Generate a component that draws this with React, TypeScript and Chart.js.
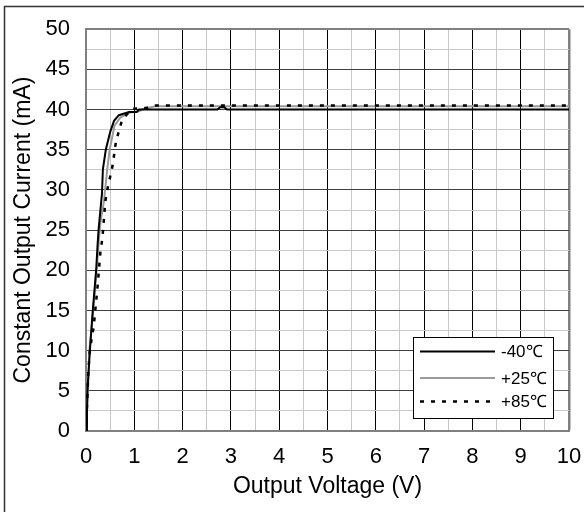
import React, { useEffect, useRef } from 'react';
import { Chart, registerables } from 'chart.js';

Chart.register(...registerables);

// -40°C curve
const m40X = [0, 0.02, 0.03, 0.08, 0.11, 0.14, 0.21, 0.24, 0.26, 0.33, 0.35, 0.41, 0.5, 0.58, 0.68, 0.89, 1.05, 1.1, 2.72, 2.78, 2.86, 2.92, 10];
const m40Y = [0, 2.2, 5, 10, 12.5, 15, 20, 23.2, 25, 29.5, 32.6, 35, 37.2, 38.6, 39.3, 39.7, 39.7, 40.0, 40.0, 40.3, 40.3, 40.0, 40.0];
// +25°C curve
const p25X = [0, 0.02, 0.04, 0.07, 0.12, 0.15, 0.22, 0.27, 0.3, 0.37, 0.44, 0.49, 0.59, 0.71, 0.89, 1.1, 1.2, 1.44, 10];
const p25Y = [0, 2.5, 5, 10, 13, 15, 20, 24, 26, 28.5, 32.6, 35, 38, 39, 39.6, 39.8, 40.1, 40.4, 40.4];
// +85°C curve
const p85X = [0, 0.02, 0.05, 0.08, 0.12, 0.16, 0.24, 0.3, 0.34, 0.4, 0.44, 0.55, 0.62, 0.75, 0.96, 1.25, 1.45, 10];
const p85Y = [0, 3, 7.6, 10, 11.6, 13, 18, 22.4, 24, 28.6, 30, 33, 36, 38.8, 40.1, 40.2, 40.5, 40.5];

const seriesLabels = ['-40℃', '+25℃', '+85℃'];
const xTitle = 'Output Voltage (V)';
const yTitle = 'Constant Output Current (mA)';

const FONT = '"Liberation Sans", Arial, sans-serif';

const toPts = (xs: number[], ys: number[]) => xs.map((x, i) => ({ x, y: ys[i] }));

const frameAndLegend = {
  id: 'frameAndLegend',
  afterDraw(chart: any) {
    const { ctx, chartArea } = chart;
    ctx.save();
    // outer frame (top and left)
    ctx.strokeStyle = '#333';
    ctx.lineWidth = 1.5;
    ctx.beginPath();
    ctx.moveTo(4.5, 512);
    ctx.lineTo(4.5, 6.5);
    ctx.lineTo(584, 6.5);
    ctx.stroke();

    // legend
    const bx = chartArea.right - 156;
    const by = chartArea.bottom - 94;
    const bw = 140;
    const bh = 81;
    ctx.fillStyle = '#fff';
    ctx.fillRect(bx, by, bw, bh);
    ctx.strokeStyle = '#000';
    ctx.lineWidth = 1;
    ctx.strokeRect(bx + 0.5, by + 0.5, bw, bh);
    const ds = chart.data.datasets;
    const rows = [14.5, 41, 64.5];
    [0, 1, 2].forEach((di, r) => {
      const d = ds[di];
      const y = by + rows[r];
      ctx.strokeStyle = d.borderColor;
      ctx.lineWidth = d.borderWidth;
      ctx.setLineDash(d.borderDash || []);
      ctx.beginPath();
      ctx.moveTo(bx + 7, y);
      ctx.lineTo(bx + 82, y);
      ctx.stroke();
      ctx.setLineDash([]);
      ctx.fillStyle = '#000';
      ctx.font = `17px ${FONT}`;
      ctx.textBaseline = 'middle';
      ctx.textAlign = 'left';
      ctx.fillText(d.label, bx + 88, y + 1);
    });
    ctx.restore();
  },
};

export default function App() {
  const ref = useRef<HTMLCanvasElement | null>(null);
  useEffect(() => {
    document.body.style.margin = '0';
    const canvas = ref.current;
    if (!canvas) return;
    const chart = new Chart(canvas, {
      type: 'line',
      data: {
        datasets: [
          {
            label: seriesLabels[0],
            data: toPts(m40X, m40Y),
            borderColor: '#000',
            borderWidth: 2,
            pointRadius: 0,
            tension: 0,
            order: 2,
          },
          {
            label: seriesLabels[1],
            data: toPts(p25X, p25Y),
            borderColor: '#9a9a9a',
            borderWidth: 2,
            pointRadius: 0,
            tension: 0,
            order: 3,
          },
          {
            label: seriesLabels[2],
            data: toPts(p85X, p85Y),
            borderColor: '#000',
            borderWidth: 2.5,
            borderDash: [4, 7],
            pointRadius: 0,
            tension: 0,
            order: 1,
          },
        ],
      },
      options: {
        responsive: false,
        animation: false,
        devicePixelRatio: 1,
        layout: { padding: { top: 26, right: 15, left: 0, bottom: 0 } },
        plugins: { legend: { display: false }, tooltip: { enabled: false } },
        scales: {
          x: {
            type: 'linear',
            min: 0,
            max: 10,
            afterFit: (s: any) => { s.height = 81; s.paddingRight = 0; s.paddingLeft = 0; },
            ticks: {
              stepSize: 0.5,
              autoSkip: false,
              maxRotation: 0,
              padding: 13,
              color: '#000',
              font: { family: FONT, size: 22 },
              callback: (v: any) => (Number.isInteger(v) ? String(v) : ''),
            },
            grid: {
              drawTicks: false,
              color: (c: any) => {
                const v = c.tick?.value;
                if (v === 10) return '#808080';
                return Number.isInteger(v) ? '#000' : '#c8c8c8';
              },
              lineWidth: (c: any) => (c.tick?.value === 10 ? 2.5 : 1),
            },
            border: { display: true, color: '#808080', width: 2 },
            title: {
              display: true,
              text: xTitle,
              color: '#000',
              font: { family: FONT, size: 23 },
              padding: { top: 0, bottom: 12 },
            },
          },
          y: {
            type: 'linear',
            min: 0,
            max: 50,
            afterFit: (s: any) => { s.width = 86; },
            ticks: {
              stepSize: 2.5,
              autoSkip: false,
              padding: 16,
              color: '#000',
              font: { family: FONT, size: 22 },
              callback: (v: any) => (v % 5 === 0 ? String(v) : ''),
            },
            grid: {
              drawTicks: false,
              color: (c: any) => {
                const v = c.tick?.value;
                if (v === 50) return '#808080';
                return v % 5 === 0 ? '#404040' : '#c8c8c8';
              },
              lineWidth: (c: any) => (c.tick?.value === 50 ? 2 : 1),
            },
            border: { display: true, color: '#808080', width: 2 },
            title: {
              display: true,
              text: yTitle,
              color: '#000',
              font: { family: FONT, size: 23 },
              padding: { top: 10, bottom: 0 },
            },
          },
        },
      },
      plugins: [frameAndLegend],
    });
    return () => chart.destroy();
  }, []);
  return <canvas ref={ref} width={584} height={512} style={{ display: 'block' }} />;
}
